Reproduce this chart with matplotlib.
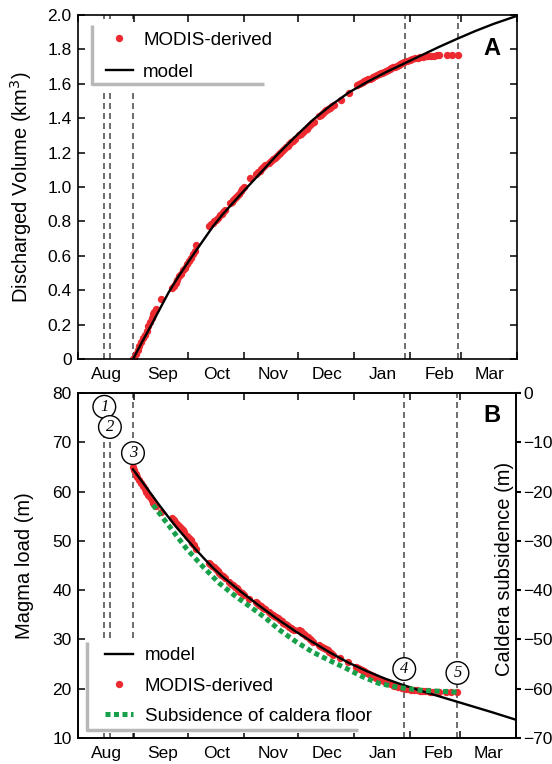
import matplotlib
matplotlib.use('Agg')
import matplotlib.pyplot as plt
import matplotlib.dates as mdates
from matplotlib.ticker import FixedLocator, FuncFormatter, NullFormatter
import datetime as dt
import numpy as np

plt.rcParams['font.family'] = ['Liberation Sans', 'DejaVu Sans']

BASE = dt.datetime(2014, 8, 1)
X_END = dt.datetime(2015, 4, 1)

# ---------------- data (days since 2014-08-01) ----------------
event_days = [14.6, 17.7, 30.5, 181.0, 210.5]
event_labels = ['1', '2', '3', '4', '5']
event_label_load = [77.2, 73.1, 67.8, 24.0, 23.2]
event_line_top = [71.5, 71.5, 80, 80, 80]

model_days = [30.5, 35, 40, 45, 50, 55, 60, 65, 70, 75, 80, 90, 100, 110, 120,
              130, 140, 150, 160, 170, 180, 190, 200, 210, 220, 230, 243]
model_volume = [0, 0.09, 0.186, 0.285, 0.384, 0.47, 0.548, 0.625, 0.70, 0.775,
                0.84, 0.957, 1.07, 1.185, 1.29, 1.39, 1.475, 1.55, 1.61, 1.665,
                1.715, 1.765, 1.815, 1.862, 1.907, 1.948, 1.995]
model_load = [64.5, 62.3, 59.8, 57.3, 54.9, 52.6, 50.5, 48.4, 46.4, 44.5, 42.8,
              39.8, 37.0, 34.3, 31.8, 29.5, 27.3, 25.3, 23.6, 22.1, 20.8, 19.6,
              18.5, 17.4, 16.3, 15.2, 13.7]

modis_vol_days = [30.5, 31.0, 32.0, 33.0, 34.0, 35.0, 36.0, 37.0, 38.0, 39.0, 40.0,
                  40.8, 41.5, 42.2, 43.0, 46.2,
                  52.0, 53.0, 54.0, 55.0, 56.0, 57.0, 58.0, 59.0,
                  60.5, 61.5, 62.5, 63.5, 64.5, 65.5,
                  72.5, 73.5, 74.5, 75.5, 76.5, 77.5, 78.5, 79.5, 80.5, 81.5,
                  84.0, 85.0, 86.0, 87.0, 88.0, 89.0, 90.0, 91.0, 92.0, 95.0,
                  98.5, 99.5, 100.5, 101.5, 102.5, 103.5,
                  106, 107, 108, 109, 110, 111, 112, 113, 114, 115, 116, 117, 118, 119, 120,
                  122.5, 123.5, 124.5, 125.5, 126.5, 127.5, 128.5, 129.5, 130.5,
                  133.5, 134.5, 135.5, 136.5, 137.5, 138.5, 139.5, 140.5, 141.5,
                  145.5, 150.0,
                  154.5, 155.5, 156.5, 157.5, 158.5, 159.5, 160.5, 161.5, 162.5, 163.5,
                  164.5, 165.5, 166.5, 167.5, 168.5, 169.5, 170.5, 171.5, 172.5, 173.5,
                  174.5, 175.5, 176.5, 177.5, 178.5, 179.5, 180.5,
                  182, 183.5, 185, 186.5, 188, 189.5, 191, 192.5, 194, 195.5, 197,
                  198.5, 200, 204.3, 207, 210.5]
modis_volume = [0.00, 0.005, 0.03, 0.05, 0.075, 0.10, 0.12, 0.14, 0.165, 0.19, 0.215,
                0.24, 0.26, 0.275, 0.29, 0.35,
                0.41, 0.425, 0.44, 0.46, 0.48, 0.495, 0.515, 0.53,
                0.555, 0.57, 0.59, 0.61, 0.63, 0.665,
                0.775, 0.785, 0.79, 0.80, 0.81, 0.82, 0.835, 0.845, 0.855, 0.865,
                0.905, 0.915, 0.925, 0.935, 0.945, 0.96, 0.975, 0.99, 1.0, 1.05,
                1.075, 1.085, 1.095, 1.105, 1.115, 1.125,
                1.14, 1.15, 1.16, 1.17, 1.18, 1.19, 1.20, 1.21, 1.22, 1.23, 1.24, 1.25,
                1.26, 1.27, 1.28,
                1.30, 1.31, 1.32, 1.33, 1.34, 1.35, 1.36, 1.37, 1.38,
                1.41, 1.42, 1.43, 1.44, 1.445, 1.455, 1.46, 1.47, 1.475,
                1.505, 1.545,
                1.595, 1.60, 1.605, 1.61, 1.615, 1.62, 1.625, 1.63, 1.635, 1.64,
                1.645, 1.65, 1.655, 1.66, 1.665, 1.67, 1.675, 1.68, 1.685, 1.69,
                1.695, 1.70, 1.705, 1.71, 1.715, 1.72, 1.725,
                1.735, 1.74, 1.745, 1.75, 1.752, 1.755, 1.757, 1.76, 1.762, 1.763, 1.764,
                1.765, 1.765, 1.766, 1.766, 1.766]

modis_load_days = modis_vol_days
modis_load = [65.0, 64.3, 63.6, 63.0, 62.4, 61.8, 61.2, 60.6, 60.0, 59.4, 58.8,
              58.2, 57.7, 57.4, 57.1, 55.8,
              54.6, 54.3, 53.9, 53.4, 53.0, 52.6, 52.2, 51.7,
              51.0, 50.6, 50.1, 49.6, 49.1, 48.4,
              45.6, 45.3, 45.0, 44.6, 44.2, 43.8, 43.4, 43.1, 42.8, 42.5,
              41.6, 41.3, 41.0, 40.7, 40.4, 40.0, 39.7, 39.4, 39.1, 38.3,
              37.6, 37.3, 37.0, 36.7, 36.4, 36.1,
              35.5, 35.2, 35.0, 34.8, 34.6, 34.3, 34.0, 33.7, 33.4, 33.1, 32.9, 32.6,
              32.4, 32.2, 32.0,
              31.9, 31.7, 31.4, 31.1, 30.8, 30.5, 30.1, 29.8, 29.5,
              28.9, 28.7, 28.5, 28.3, 28.1, 27.8, 27.5, 27.2, 26.9,
              26.3, 25.4,
              24.4, 24.2, 24.0, 23.8, 23.6, 23.4, 23.2, 23.0, 22.8, 22.6,
              22.4, 22.2, 22.0, 21.85, 21.7, 21.55, 21.4, 21.25, 21.1, 20.95,
              20.8, 20.65, 20.5, 20.4, 20.3, 20.2, 20.1,
              20.0, 19.9, 19.8, 19.7, 19.65, 19.6, 19.55, 19.5, 19.45, 19.4, 19.4,
              19.4, 19.35, 19.35, 19.3, 19.3]

subs_days = [41.6, 50.8, 60.0, 69.2, 78.4, 87.6, 96.8, 104.2, 111.5, 120.7, 129.9,
             139.1, 148.4, 157.5, 166.8, 176.0, 181.0, 190.0, 200.0, 211.0]
subsidence = [-22.7, -27.1, -31.5, -35.2, -38.6, -41.3, -43.7, -45.7, -48.0, -50.4,
              -52.5, -54.2, -55.8, -57.5, -58.9, -59.6, -59.9, -60.3, -60.5, -60.7]

vol_ticks = [0, 0.2, 0.4, 0.6, 0.8, 1.0, 1.2, 1.4, 1.6, 1.8, 2.0]
load_ticks = [10, 20, 30, 40, 50, 60, 70, 80]
subs_ticks = [-70, -60, -50, -40, -30, -20, -10, 0]

# ---------------- helpers ----------------
b0 = mdates.date2num(BASE)
def tx(days):
    return b0 + np.asarray(days, dtype=float)

RED = '#ec2a2f'
GREEN = '#17a04a'
DASH = '#555555'
LEGGRAY = '#b8b8b8'
TICK_FS = 12.5
LEG_FS = 13.5
LAB_FS = 14.5

fig = plt.figure(figsize=(5.52, 7.64), dpi=100)
axA = fig.add_axes([0.1413, 0.5301, 0.7953, 0.4503])
axB = fig.add_axes([0.1413, 0.0340, 0.7935, 0.4516])

def style_dates(ax):
    ax.set_xlim(mdates.date2num(BASE), mdates.date2num(X_END))
    ax.xaxis.set_major_locator(mdates.MonthLocator())
    ax.xaxis.set_major_formatter(NullFormatter())
    ax.xaxis.set_minor_locator(mdates.MonthLocator(bymonthday=17))
    ax.xaxis.set_minor_formatter(mdates.DateFormatter('%b'))
    ax.tick_params(axis='x', which='minor', length=0, labelsize=TICK_FS, pad=6)
    for s in ax.spines.values():
        s.set_linewidth(1.2)

# ---------------- Panel A ----------------
style_dates(axA)
for d in event_days:
    axA.axvline(tx([d])[0], color=DASH, lw=1.2, ls=(0, (3.6, 2.4)), zorder=1)
hA_mod, = axA.plot(tx(modis_vol_days), modis_volume, 'o', color=RED, ms=5.3,
                   mew=0, zorder=2, label='MODIS-derived')
hA_model, = axA.plot(tx(model_days), model_volume, '-', color='black', lw=1.7,
                     zorder=3, label='model')
axA.set_ylim(0, 2.0)
axA.yaxis.set_major_locator(FixedLocator(vol_ticks))
axA.yaxis.set_major_formatter(FuncFormatter(lambda v, p: '0' if abs(v) < 1e-9 else f'{v:.1f}'))
axA.tick_params(axis='both', which='major', direction='in', length=5, width=1.1,
                top=True, right=True, labelsize=TICK_FS)
axA.tick_params(axis='y', pad=4.5)
axA.set_ylabel('Discharged Volume (km$^3$)', fontsize=LAB_FS)
axA.yaxis.set_label_coords(-0.100, 0.5)
axA.text(0.943, 0.904, 'A', transform=axA.transAxes, fontsize=17, fontweight='bold',
         ha='center', va='center')

legA = axA.legend(handles=[hA_mod, hA_model], loc='upper left',
                  bbox_to_anchor=(0.044, 0.976), borderaxespad=0, frameon=True,
                  fancybox=False, framealpha=1, facecolor='white', edgecolor='none',
                  fontsize=LEG_FS, handlelength=1.45, handletextpad=0.55,
                  labelspacing=0.80, borderpad=0.45, numpoints=1)
legA.set_zorder(5)
axA.plot([0.0319, 0.0319, 0.4237], [0.971, 0.7994, 0.7994], color=LEGGRAY, lw=2.5,
         transform=axA.transAxes, clip_on=False, zorder=6, solid_capstyle='butt')

# ---------------- Panel B ----------------
style_dates(axB)
for d, top in zip(event_days, event_line_top):
    axB.vlines(tx([d])[0], 10, top, color=DASH, lw=1.2, linestyles=[(0, (3.6, 2.4))], zorder=1)
hB_mod, = axB.plot(tx(modis_load_days), modis_load, 'o', color=RED, ms=5.3, mew=0,
                   zorder=2, label='MODIS-derived')
hB_model, = axB.plot(tx(model_days), model_load, '-', color='black', lw=1.7, zorder=3,
                     label='model')
axB.set_ylim(10, 80)
axB.yaxis.set_major_locator(FixedLocator(load_ticks))
axB.tick_params(axis='both', which='major', direction='in', length=5, width=1.1,
                top=True, right=False, labelsize=TICK_FS)
axB.tick_params(axis='y', pad=4.5)
axB.set_ylabel('Magma load (m)', fontsize=LAB_FS)
axB.yaxis.set_label_coords(-0.100, 0.5)
for d, lab, yv in zip(event_days, event_labels, event_label_load):
    axB.text(tx([d])[0], yv, lab, fontsize=12, fontstyle='italic',
             family=['Liberation Serif', 'DejaVu Serif'], ha='center', va='center',
             zorder=7, bbox=dict(boxstyle='circle,pad=0.2', fc='white', ec='black', lw=1.0))

ax2 = axB.twinx()
ax2.set_position(axB.get_position())
hB_subs, = ax2.plot(tx(subs_days), subsidence, color=GREEN, lw=3.6,
                    ls=(0, (1, 0.7)), dash_capstyle='butt', zorder=4,
                    label='Subsidence of caldera floor')
ax2.set_ylim(-70, 0)
ax2.yaxis.set_major_locator(FixedLocator(subs_ticks))
ax2.yaxis.set_major_formatter(FuncFormatter(lambda v, p: f'{int(round(v))}'.replace('-', '\u2212')))
ax2.tick_params(axis='y', direction='out', length=3.5, width=1.5, pad=1.5,
                labelsize=TICK_FS)
for s in ax2.spines.values():
    s.set_linewidth(1.2)
ax2.set_ylabel('Caldera subsidence (m)', fontsize=LAB_FS)
ax2.yaxis.set_label_coords(0.952, 0.49)
ax2.text(0.945, 0.936, 'B', transform=ax2.transAxes, fontsize=17, fontweight='bold',
         ha='center', va='center')

# legend drawn on the main axes, beneath the data curves
legB = axB.legend(handles=[hB_model, hB_mod, hB_subs], loc='lower left',
                  bbox_to_anchor=(0.0433, 0.014), borderaxespad=0, frameon=True,
                  fancybox=False, framealpha=1, facecolor='white', edgecolor='none',
                  fontsize=LEG_FS, handlelength=1.45, handletextpad=0.65,
                  labelspacing=0.70, borderpad=0.45, numpoints=1)
legB.set_zorder(1.5)
axB.plot([0.0205, 0.0205, 0.639], [0.278, 0.023, 0.023], color=LEGGRAY, lw=2.5,
         transform=axB.transAxes, clip_on=False, zorder=6, solid_capstyle='butt')

fig.savefig('out.png', dpi=100)
